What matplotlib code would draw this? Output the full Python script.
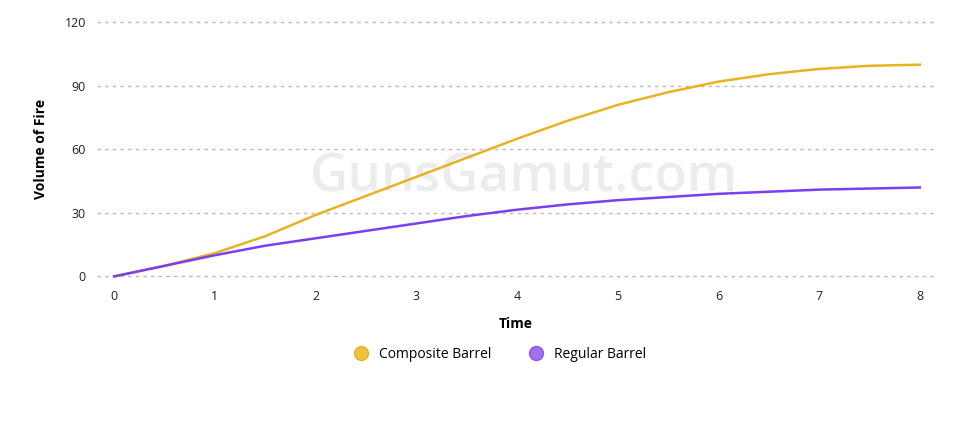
import matplotlib
matplotlib.use("Agg")
import matplotlib.pyplot as plt

time = [0, 0.5, 1, 1.5, 2, 2.5, 3, 3.5, 4, 4.5, 5, 5.5, 6, 6.5, 7, 7.5, 8]
composite = [0, 5, 11, 19, 29, 38, 47, 56, 65, 73.5, 81, 87, 92, 95.5, 98, 99.5, 100]
regular = [0, 5, 10, 14.5, 18, 21.5, 25, 28.5, 31.5, 34, 36, 37.5, 39, 40, 41, 41.5, 42]
series_names = ["Composite Barrel", "Regular Barrel"]
x_ticks = [0, 1, 2, 3, 4, 5, 6, 7, 8]
y_ticks = [0, 30, 60, 90, 120]

plt.rcParams['font.family'] = ['Open Sans', 'DejaVu Sans']

fig = plt.figure(figsize=(9.8, 4.22), dpi=100)
ax = fig.add_axes([0.099, 0.34, 0.855, 0.612])

ax.plot(time, composite, color='#e8b320', lw=1.8, clip_on=False, zorder=3)
ax.plot(time, regular, color='#7a3ff0', lw=1.8, clip_on=False, zorder=3)

ax.set_xlim(-0.17, 8.15)
ax.set_ylim(-1, 121)
ax.set_xticks(x_ticks)
ax.set_yticks(y_ticks)
ax.tick_params(length=0, labelsize=9, colors='#222222', pad=8)
ax.grid(axis='y', color='#bbbbbb', linestyle=(0, (2.5, 3)), lw=1)
for s in ax.spines.values():
    s.set_visible(False)

ax.set_xlabel("Time", fontsize=10, fontweight='bold', labelpad=10)
ax.set_ylabel("Volume of Fire", fontsize=10, fontweight='bold', labelpad=12)

ax.text(0.51, 0.39, "GunsGamut.com", transform=ax.transAxes, ha='center', va='center',
        fontsize=38, fontweight='semibold', color='#ececec', zorder=1)

handles = [plt.Line2D([], [], marker='o', ls='', ms=10, color='#f0c040', markeredgecolor='#e8b320'),
           plt.Line2D([], [], marker='o', ls='', ms=10, color='#a070f0', markeredgecolor='#8a55ee')]
fig.legend(handles, series_names, loc='center', bbox_to_anchor=(0.507, 0.16), ncol=2,
           frameon=False, fontsize=10, handletextpad=0.3, columnspacing=2.2)

fig.savefig("out.png", dpi=100)
